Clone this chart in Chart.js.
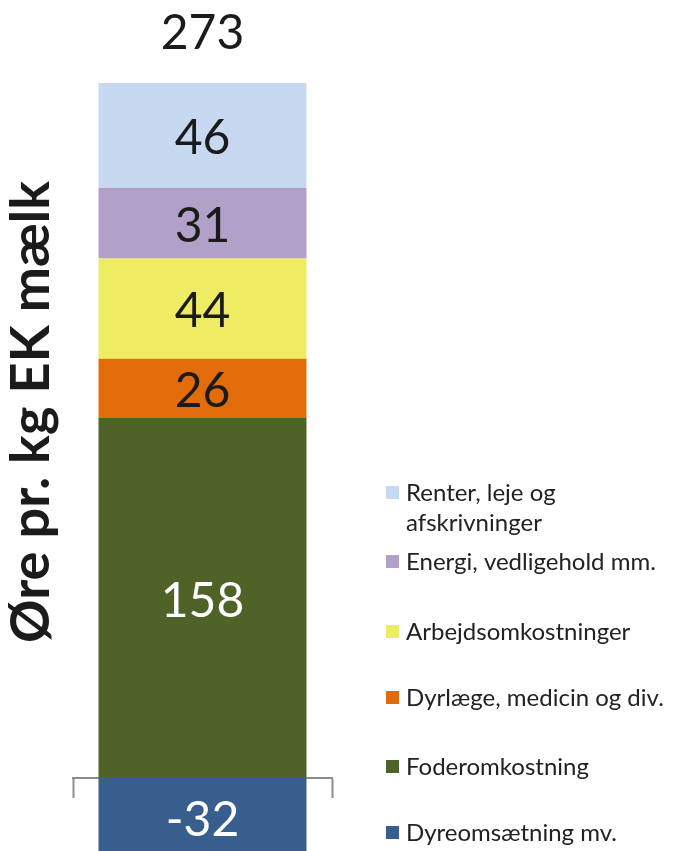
<!DOCTYPE html>
<html>
<head>
<meta charset="utf-8">
<script src="https://cdn.jsdelivr.net/npm/chart.js@4.4.1/dist/chart.umd.min.js"></script>
<style>
    html, body { margin: 0; padding: 0; background: #fff; overflow: hidden; }
    #cost-wrap { position: relative; width: 679px; height: 851px; }
</style>
</head>
<body>
<div id="cost-wrap"><canvas id="cost-chart"></canvas></div>
<script>
// one stacked column, bottom segment first
const categories = ['Omkostninger'];
const seriesLabels = ['Dyreomsætning mv.', 'Foderomkostning', 'Dyrlæge, medicin og div.', 'Arbejdsomkostninger', 'Energi, vedligehold mm.', 'Renter, leje og\nafskrivninger'];
const seriesValues = [-32, 158, 26, 44, 31, 46];
const seriesColors = ['#385e8e', '#4f6228', '#e36c0a', '#eeec63', '#b1a0c7', '#c6d9f0'];
const valueColors = ['#ffffff', '#ffffff', '#1b1b1b', '#1b1b1b', '#1b1b1b', '#1b1b1b'];
const axisTitle = 'Øre pr. kg EK mælk';

(function() {
    "use strict";

    const numberFont = '48px Lato';
    const legendFont = '24px Lato';
    const axisColor = '#8c8c8c';

    let total = seriesValues.reduce((a, b) => a + b, 0);
    let positiveSum = seriesValues.filter(v => v > 0).reduce((a, b) => a + b, 0);
    let negativeSum = seriesValues.filter(v => v < 0).reduce((a, b) => a + b, 0);

    // segment values, total on top, rotated axis title
    const valueLabels = {
        id: 'valueLabels',
        afterDatasetsDraw(chart) {
            let ctx = chart.ctx;
            ctx.save();
            ctx.font = numberFont;
            ctx.textAlign = 'center';
            ctx.textBaseline = 'middle';
            let topY = null;
            chart.data.datasets.forEach((ds, i) => {
                let bar = chart.getDatasetMeta(i).data[0];
                let shift = ds.data[0] < 0 ? 6 : 3;
                ctx.fillStyle = valueColors[i];
                ctx.fillText(String(ds.data[0]), bar.x, (bar.y + bar.base) / 2 + shift);
                if (ds.data[0] > 0) topY = topY === null ? bar.y : Math.min(topY, bar.y);
            });
            let first = chart.getDatasetMeta(0).data[0];
            ctx.fillStyle = '#1b1b1b';
            ctx.fillText(String(total), first.x, topY - 49);

            ctx.translate(49, 412);
            ctx.rotate(-Math.PI / 2);
            ctx.font = 'bold 54px Lato';
            ctx.textBaseline = 'alphabetic';
            ctx.fillText(axisTitle, 0, 0);
            ctx.restore();
        }
    };

    // legend on the right, top series first
    const sideLegend = {
        id: 'sideLegend',
        afterDraw(chart) {
            let ctx = chart.ctx;
            let rows = [493, 562, 632, 698, 767, 833];
            ctx.save();
            ctx.font = legendFont;
            ctx.textBaseline = 'middle';
            ctx.textAlign = 'left';
            let order = chart.data.datasets.map((d, i) => i).reverse();
            order.forEach((i, r) => {
                let ds = chart.data.datasets[i];
                let y = rows[r];
                ctx.fillStyle = ds.backgroundColor;
                ctx.fillRect(386, y - 7, 13, 13);
                ctx.fillStyle = '#222222';
                ds.label.split('\n').forEach((line, k) => {
                    ctx.fillText(line, 406, y + k * 30);
                });
            });
            ctx.restore();
        }
    };

    let costChart = document.getElementById('cost-chart');
    window.Chart && new Chart(costChart, {
        type: 'bar',
        data: {
            labels: categories,
            datasets: seriesLabels.map((label, i) => ({
                label: label,
                data: [seriesValues[i]],
                backgroundColor: seriesColors[i],
                borderWidth: 0,
                categoryPercentage: 1,
                barPercentage: 0.803
            }))
        },
        options: {
            responsive: true,
            maintainAspectRatio: false,
            animation: false,
            layout: {
                padding: { left: 73, right: 347, top: 83, bottom: 0 }
            },
            plugins: {
                legend: { display: false },
                tooltip: { enabled: false }
            },
            scales: {
                x: {
                    stacked: true,
                    position: { y: 0 },
                    offset: true,
                    grid: {
                        display: true,
                        offset: true,
                        drawOnChartArea: false,
                        drawTicks: true,
                        tickLength: 19,
                        tickColor: axisColor,
                        tickWidth: 2
                    },
                    border: { display: true, color: axisColor, width: 2 },
                    ticks: { display: false }
                },
                y: {
                    stacked: true,
                    display: false,
                    min: negativeSum,
                    max: positiveSum
                }
            }
        },
        plugins: [valueLabels, sideLegend]
    });
})();
</script>
</body>
</html>
